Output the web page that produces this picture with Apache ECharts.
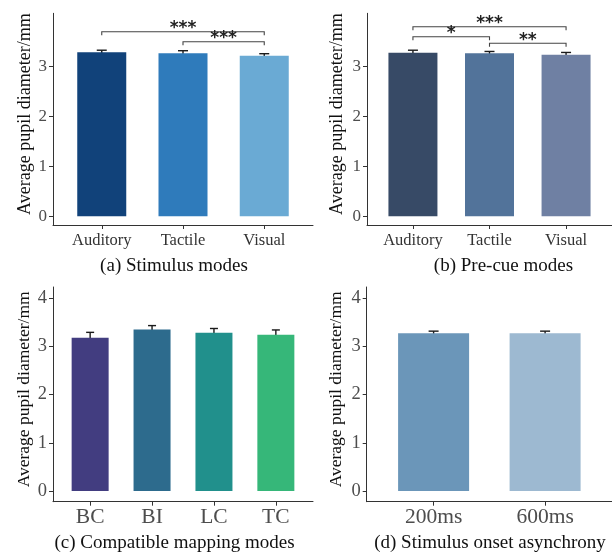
<!DOCTYPE html>
<html>
<head>
<meta charset="utf-8">
<script src="https://cdn.jsdelivr.net/npm/echarts@6/dist/echarts.min.js"></script>
<style>html,body{margin:0;padding:0;background:#fff}#c{width:612px;height:557px}</style>
</head>
<body>
<div id="c"></div>
<script>
// ---- data ----
const catsA = ['Auditory', 'Tactile', 'Visual'];
const meansA = [3.29, 3.27, 3.22];
const errA = [0.04, 0.05, 0.04];
const sigA = [[1, 3, 3.70, '***'], [2, 3, 3.50, '***']];

const catsB = ['Auditory', 'Tactile', 'Visual'];
const meansB = [3.28, 3.27, 3.24];
const errB = [0.05, 0.035, 0.045];
const sigB = [[1, 3, 3.80, '***'], [1, 2, 3.60, '*'], [2, 3, 3.47, '**']];

const catsC = ['BC', 'BI', 'LC', 'TC'];
const meansC = [3.18, 3.35, 3.28, 3.24];
const errC = [0.11, 0.08, 0.09, 0.10];

const catsD = ['200ms', '600ms'];
const meansD = [3.27, 3.27];
const errD = [0.045, 0.045];

const ticksTop = [0, 1, 2, 3];
const ticksBottom = [0, 1, 2, 3, 4];
const yTitle = 'Average pupil diameter/mm';
const captions = ['(a) Stimulus modes', '(b) Pre-cue modes', '(c) Compatible mapping modes', '(d) Stimulus onset asynchrony'];

// ---- styles ----
const colorsA = ['#11427a', '#2f7bbb', '#6aaad4'];
const colorsB = ['#374a66', '#52739a', '#6f80a3'];
const colorsC = ['#423d80', '#2d6b8d', '#21908c', '#36b779'];
const colorsD = ['#6b96b9', '#9db9d1'];
const SERIF = 'Liberation Serif';

const chart = echarts.init(document.getElementById('c'));

const panels = [
  {cats: catsA, means: meansA, err: errA, colors: colorsA, sig: sigA, left: 53, top: 13.3, h: 211.7, min: -0.174, max: 4.07, ticks: ticksTop, bw: 49, cap: 10, xfs: 16.5, yfs: 17, xcol: '#333', tfs: 18, gap: 19, xmargin: 7},
  {cats: catsB, means: meansB, err: errB, colors: colorsB, sig: sigB, left: 367, top: 13.3, h: 211.7, min: -0.174, max: 4.07, ticks: ticksTop, bw: 49, cap: 10, xfs: 16.5, yfs: 17, xcol: '#333', tfs: 18, gap: 21, xmargin: 7},
  {cats: catsC, means: meansC, err: errC, colors: colorsC, sig: [], left: 53, top: 287, h: 214.7, min: -0.22, max: 4.23, ticks: ticksBottom, bw: 37, cap: 8, xfs: 21.5, yfs: 18.5, xcol: '#4d4d4d', tfs: 17.5, gap: 16, xmargin: 5},
  {cats: catsD, means: meansD, err: errD, colors: colorsD, sig: [], left: 366.7, top: 287, h: 214.7, min: -0.22, max: 4.23, ticks: ticksBottom, bw: 71, cap: 10, xfs: 21.5, yfs: 18.5, xcol: '#4d4d4d', tfs: 17.5, gap: 21, xmargin: 5}
];

const grid = [], xAxis = [], yAxis = [], series = [];

panels.forEach((p, i) => {
  const n = p.cats.length;
  const xmin = 0.4, xmax = n + 0.6;
  const catPos = p.cats.map((c, k) => k + 1);
  grid.push({left: p.left, top: p.top, width: 260, height: p.h});
  xAxis.push({
    type: 'value', gridIndex: i, min: xmin, max: xmax,
    splitLine: {show: false},
    axisLine: {onZero: false, lineStyle: {color: '#333', width: 1}},
    axisTick: {customValues: catPos, length: 4, lineStyle: {color: '#333'}},
    axisLabel: {customValues: catPos, formatter: v => p.cats[Math.round(v) - 1], fontFamily: SERIF, fontSize: p.xfs, color: p.xcol, margin: p.xmargin}
  });
  yAxis.push({
    type: 'value', gridIndex: i, min: p.min, max: p.max,
    splitLine: {show: false},
    axisLine: {show: true, onZero: false, lineStyle: {color: '#333', width: 1}},
    axisTick: {show: true, customValues: p.ticks, length: 4, lineStyle: {color: '#333'}},
    axisLabel: {customValues: p.ticks, fontFamily: SERIF, fontSize: p.yfs, color: '#4d4d4d', margin: 6},
    name: yTitle, nameLocation: 'middle', nameGap: p.gap,
    nameTextStyle: {fontFamily: SERIF, fontSize: p.tfs, color: '#111', padding: [0, 0, 0, 10]}
  });
  series.push({
    type: 'bar', xAxisIndex: i, yAxisIndex: i, barWidth: p.bw,
    data: p.means.map((m, k) => ({value: [k + 1, m], itemStyle: {color: p.colors[k]}})),
    silent: true, animation: false
  });
  series.push({
    type: 'custom', xAxisIndex: i, yAxisIndex: i, animation: false, silent: true,
    encode: {x: 0, y: 1},
    data: p.means.map((m, k) => [k + 1, m, p.err[k]]),
    renderItem: (params, api) => {
      const x = api.value(0), m = api.value(1), e = api.value(2);
      const t = api.coord([x, m + e]), b = api.coord([x, m - e]);
      const h = p.cap / 2;
      const st = {stroke: '#1a1a1a', lineWidth: 1.4};
      return {type: 'group', children: [
        {type: 'line', shape: {x1: t[0], y1: t[1], x2: b[0], y2: b[1]}, style: st},
        {type: 'line', shape: {x1: t[0] - h, y1: t[1], x2: t[0] + h, y2: t[1]}, style: st},
        {type: 'line', shape: {x1: b[0] - h, y1: b[1], x2: b[0] + h, y2: b[1]}, style: st}
      ]};
    }
  });
  if (p.sig.length) {
    series.push({
      type: 'custom', xAxisIndex: i, yAxisIndex: i, animation: false, silent: true,
      encode: {x: [0, 1], y: 2},
      data: p.sig.map(s => [s[0], s[1], s[2]]),
      renderItem: (params, api) => {
        const s = p.sig[params.dataIndex];
        const a = api.coord([s[0], s[2]]), b = api.coord([s[1], s[2]]);
        const drop = 3.5;
        const st = {stroke: '#444', lineWidth: 1.1};
        return {type: 'group', children: [
          {type: 'polyline', shape: {points: [[a[0], a[1] + drop], [a[0], a[1]], [b[0], b[1]], [b[0], b[1] + drop]]}, style: Object.assign({fill: null}, st)},
          {type: 'text', x: (a[0] + b[0]) / 2, y: a[1] + 5.5, style: {text: s[3], align: 'center', verticalAlign: 'bottom', fontFamily: 'DejaVu Sans', fontWeight: 'bold', fontSize: 17, fill: '#222'}}
        ]};
      }
    });
  }
});

const capPos = [[174, 266.5], [503.5, 266.5], [174.5, 543], [490, 543]];
const graphic = captions.map((t, i) => ({
  type: 'text', x: capPos[i][0], y: capPos[i][1],
  style: {text: t, align: 'center', verticalAlign: 'middle', fontFamily: SERIF, fontSize: 19, fill: '#111'}
}));

chart.setOption({animation: false, grid, xAxis, yAxis, series, graphic});
</script>
</body>
</html>
